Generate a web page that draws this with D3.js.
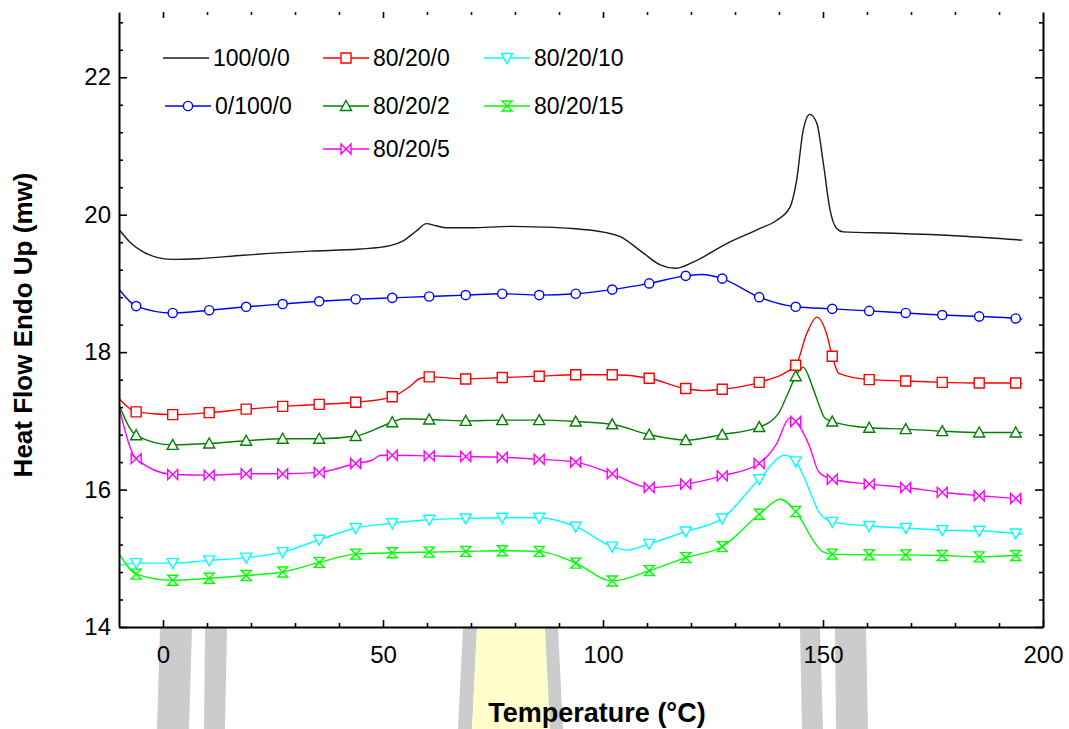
<!DOCTYPE html>
<html>
<head>
<meta charset="utf-8">
<script src="https://cdn.jsdelivr.net/npm/d3@7"></script>
<style>
  html, body { margin: 0; padding: 0; background: #fff; }
  svg { display: block; }
  text { font-family: "Liberation Sans", Arial, sans-serif; fill: #000; }
</style>
</head>
<body>
<svg id="chart" width="1069" height="729"></svg>
<script>
// ---------------- DATA ----------------
const xTicksMajor = [0, 50, 100, 150, 200];
const yTicksMajor = [14, 16, 18, 20, 22];

// temperatures (°C) where symbols are drawn (shared by all symbol series)
const markerTemp = [-6.1, 2.2, 10.5, 18.9, 27.2, 35.5, 43.8, 52.1, 60.5, 68.8, 77.1, 85.5, 93.8,
                    102.1, 110.5, 118.8, 127.1, 135.5, 143.8, 152.1, 160.5, 168.8, 177.1, 185.5, 193.8];

// 100/0/0 (line only)
const temp_100_0_0 = [-9.8, -7.5, -4.5, -1.4, 2, 8, 18.2, 33.4, 44.8, 51.6, 54.6, 57.5, 59.9, 62, 64.5, 70,
                      78.9, 86.4, 93, 97.8, 103.9, 109.2, 113, 116.4, 120.5, 128.1, 135.7, 139.5, 142.5, 144,
                      145.5, 147, 148.6, 150.1, 151.6, 153.1, 154.6, 166, 181.1, 195.3];
const hf_100_0_0   = [19.77, 19.60, 19.46, 19.38, 19.35, 19.36, 19.41, 19.47, 19.50, 19.55, 19.62, 19.76, 19.87, 19.84, 19.81, 19.81,
                      19.83, 19.82, 19.80, 19.77, 19.68, 19.44, 19.27, 19.22, 19.31, 19.58, 19.80, 19.92, 20.11, 20.50,
                      21.23, 21.46, 21.33, 20.74, 20.07, 19.80, 19.75, 19.73, 19.69, 19.63];

// 0/100/0
const mk_0_100_0 = [18.67, 18.57, 18.61, 18.66, 18.70, 18.74, 18.77, 18.79, 18.81, 18.83, 18.85, 18.83, 18.85,
                    18.91, 19.00, 19.11, 19.07, 18.80, 18.66, 18.63, 18.60, 18.57, 18.54, 18.52, 18.49];
const exT_0_100_0 = [-9.8, 122.5, 195.3];
const exV_0_100_0 = [18.90, 19.13, 18.48];

// 80/20/0
const mk_80_20_0 = [17.13, 17.09, 17.12, 17.17, 17.21, 17.24, 17.27, 17.35, 17.64, 17.61, 17.63, 17.65, 17.67,
                    17.67, 17.62, 17.47, 17.46, 17.56, 17.81, 17.94, 17.60, 17.58, 17.56, 17.55, 17.55];
const exT_80_20_0 = [-9.8, 56.1, 58.5, 123, 146.3, 148.6, 150.8, 153.6, 195.3];
const exV_80_20_0 = [17.31, 17.50, 17.62, 17.44, 18.27, 18.51, 18.27, 17.69, 17.54];

// 80/20/2
const mk_80_20_2 = [16.79, 16.65, 16.67, 16.71, 16.74, 16.74, 16.78, 16.98, 17.02, 17.00, 17.01, 17.01, 16.99,
                    16.95, 16.80, 16.72, 16.80, 16.91, 17.65, 16.99, 16.90, 16.88, 16.85, 16.83, 16.83];
const exT_80_20_2 = [-9.8, 54.6, 139.9, 141.9, 145.5, 147.7, 149.0, 150.4, 195.3];
const exV_80_20_2 = [17.20, 17.03, 17.11, 17.38, 17.78, 17.48, 17.25, 17.04, 16.83];

// 80/20/5
const mk_80_20_5 = [16.45, 16.22, 16.21, 16.23, 16.23, 16.25, 16.38, 16.50, 16.49, 16.48, 16.47, 16.44, 16.40,
                    16.23, 16.03, 16.08, 16.20, 16.38, 16.99, 16.15, 16.08, 16.03, 15.96, 15.91, 15.87];
const exT_80_20_5 = [-9.8, 47.6, 49.5, 139.4, 142.4, 147.0, 149.0, 195.3];
const exV_80_20_5 = [17.15, 16.43, 16.50, 16.66, 17.04, 16.62, 16.26, 15.86];

// 80/20/10
const mk_80_20_10 = [14.93, 14.93, 14.97, 15.01, 15.09, 15.27, 15.44, 15.51, 15.56, 15.58, 15.59, 15.59, 15.46,
                     15.17, 15.21, 15.39, 15.58, 16.15, 16.41, 15.53, 15.47, 15.44, 15.41, 15.40, 15.36];
const exT_80_20_10 = [-9.8, 105.5, 141.3, 147.5, 149.0, 195.3];
const exV_80_20_10 = [14.90, 15.12, 16.50, 15.90, 15.68, 15.35];

// 80/20/15
const mk_80_20_15 = [14.77, 14.68, 14.71, 14.75, 14.80, 14.94, 15.06, 15.08, 15.09, 15.10, 15.11, 15.10, 14.93,
                     14.67, 14.82, 15.01, 15.17, 15.64, 15.68, 15.06, 15.05, 15.05, 15.04, 15.02, 15.04];
const exT_80_20_15 = [-9.8, 140.3, 148.2, 149.8, 195.3];
const exV_80_20_15 = [15.05, 15.86, 15.22, 15.10, 15.04];

const seriesNames  = ["100/0/0", "0/100/0", "80/20/0", "80/20/2", "80/20/5", "80/20/10", "80/20/15"];
const seriesColors = ["#1a1a1a", "#0000ff", "#ff0000", "#008000", "#ff00ff", "#00ffff", "#00ff00"];
const seriesSymbol = [null, "circle", "square", "triangle", "bowtie", "triangleDown", "hourglass"];

// ---------------- BUILD ----------------
function merge(mk, exT, exV) {
  const pts = markerTemp.map((t, i) => ({t, v: mk[i]}));
  exT.forEach((t, i) => pts.push({t, v: exV[i]}));
  pts.sort((a, b) => a.t - b.t);
  return pts;
}
const series = [
  {curve: temp_100_0_0.map((t, i) => ({t, v: hf_100_0_0[i]})), markers: []},
  {curve: merge(mk_0_100_0, exT_0_100_0, exV_0_100_0), markers: mk_0_100_0},
  {curve: merge(mk_80_20_0, exT_80_20_0, exV_80_20_0), markers: mk_80_20_0},
  {curve: merge(mk_80_20_2, exT_80_20_2, exV_80_20_2), markers: mk_80_20_2},
  {curve: merge(mk_80_20_5, exT_80_20_5, exV_80_20_5), markers: mk_80_20_5},
  {curve: merge(mk_80_20_10, exT_80_20_10, exV_80_20_10), markers: mk_80_20_10},
  {curve: merge(mk_80_20_15, exT_80_20_15, exV_80_20_15), markers: mk_80_20_15}
].map((s, i) => Object.assign(s, {name: seriesNames[i], color: seriesColors[i], symbol: seriesSymbol[i]}));

// ---------------- DRAW ----------------
const svg = d3.select("#chart");
const x = d3.scaleLinear().domain([-10, 200]).range([119, 1043]);
const y = d3.scaleLinear().domain([14, 22.95]).range([627, 12]);

// decorative bands under the x axis
const bands = [
  {c: "#cccccc", p: [[160,628],[192,628],[189,729],[157,729]]},
  {c: "#cccccc", p: [[205,628],[227,628],[225,729],[204,729]]},
  {c: "#cccccc", p: [[463,628],[477,628],[472,729],[458,729]]},
  {c: "#ffffcc", p: [[477,628],[545,628],[550,729],[472,729]]},
  {c: "#cccccc", p: [[545,628],[558,628],[563,729],[550,729]]},
  {c: "#cccccc", p: [[800,628],[820,628],[823,729],[802,729]]},
  {c: "#cccccc", p: [[835,628],[866,628],[868,729],[836,729]]}
];
svg.append("g").selectAll("polygon").data(bands).join("polygon")
  .attr("points", d => d.p.map(q => q.join(",")).join(" "))
  .attr("fill", d => d.c);

const symbolPath = {
  circle: "M4.6,0A4.6,4.6 0 1,1 -4.6,0A4.6,4.6 0 1,1 4.6,0Z",
  square: "M-5,-5H5V5H-5Z",
  triangle: "M0,-5.5L5.5,4.5L-5.5,4.5Z",
  triangleDown: "M0,5.5L5.5,-4.5L-5.5,-4.5Z",
  bowtie: "M-5,-5L5,5V-5L-5,5Z",
  hourglass: "M-5,-5H5L-5,5H5Z"
};

const line = d3.line().x(d => x(d.t)).y(d => y(d.v)).curve(d3.curveMonotoneX);
const plot = svg.append("g");
series.forEach(s => {
  plot.append("path").datum(s.curve)
    .attr("d", line).attr("fill", "none")
    .attr("stroke", s.color).attr("stroke-width", 1.4);
});
series.forEach(s => {
  if (!s.symbol) return;
  plot.append("g").selectAll("path").data(s.markers).join("path")
    .attr("transform", (v, i) => `translate(${x(markerTemp[i])},${y(v)})`)
    .attr("d", symbolPath[s.symbol])
    .attr("fill", "#fff").attr("stroke", s.color).attr("stroke-width", 1.4);
});

// axes
const minorX = d3.range(-10, 201, 10).filter(v => v > -10 && v < 200 && v % 50 !== 0);
const minorY = d3.range(14, 23, 0.4).map(v => +v.toFixed(1)).filter(v => v % 2 !== 0 && v < 22.95);

function styleAxis(g) {
  g.selectAll(".domain").attr("stroke", "#000").attr("stroke-width", 2);
  g.selectAll(".tick line").attr("stroke", "#000").attr("stroke-width", 1.6);
  g.selectAll("text").attr("font-size", 24).attr("font-family", "'Liberation Sans', Arial, sans-serif");
}

// bottom
svg.append("g").attr("transform", "translate(0,627)")
  .call(d3.axisBottom(x).tickValues(minorX).tickSize(-4).tickFormat(""))
  .call(g => g.select(".domain").remove())
  .call(styleAxis);
svg.append("g").attr("transform", "translate(0,627)")
  .call(d3.axisBottom(x).tickValues(xTicksMajor).tickSizeInner(-7).tickSizeOuter(0).tickPadding(19).tickFormat(d3.format("d")))
  .call(styleAxis);
// top ticks only
svg.append("g").attr("transform", "translate(0,12)")
  .call(d3.axisTop(x).tickValues(d3.range(0, 200, 10)).tickSize(-3).tickFormat(""))
  .call(g => g.select(".domain").remove())
  .call(g => g.selectAll(".tick line").attr("y2", d => d % 50 === 0 ? 6 : 3))
  .call(styleAxis);
// left
svg.append("g").attr("transform", "translate(119,0)")
  .call(d3.axisLeft(y).tickValues(minorY).tickSize(-4).tickFormat(""))
  .call(g => g.select(".domain").remove())
  .call(styleAxis);
svg.append("g").attr("transform", "translate(119,0)")
  .call(d3.axisLeft(y).tickValues(yTicksMajor).tickSizeInner(-8).tickSizeOuter(0).tickPadding(8).tickFormat(d3.format("d")))
  .call(styleAxis);
// right
svg.append("g").attr("transform", "translate(1043,0)")
  .call(d3.axisRight(y).tickValues(minorY).tickSize(-4).tickFormat(""))
  .call(g => g.select(".domain").remove())
  .call(styleAxis);
svg.append("g").attr("transform", "translate(1043,0)")
  .call(d3.axisRight(y).tickValues(yTicksMajor).tickSizeInner(-8).tickSizeOuter(0).tickFormat(""))
  .call(styleAxis);

// axis titles
svg.append("text").attr("x", 597).attr("y", 722).attr("text-anchor", "middle")
  .attr("font-size", 27).attr("font-weight", "bold").text("Temperature (°C)");
svg.append("text").attr("transform", "translate(32,325) rotate(-90)").attr("text-anchor", "middle")
  .attr("font-size", 26).attr("font-weight", "bold").text("Heat Flow Endo Up (mw)");

// legend
const legendPos = [
  {x: 163, y: 58}, {x: 165, y: 106}, {x: 323, y: 58}, {x: 323, y: 106}, {x: 323, y: 149}, {x: 484, y: 58}, {x: 484, y: 106}
];
const leg = svg.append("g");
series.forEach((s, i) => {
  const p = legendPos[i];
  const g = leg.append("g").attr("transform", `translate(${p.x},${p.y})`);
  g.append("line").attr("x1", 0).attr("x2", 46).attr("stroke", s.color).attr("stroke-width", 1.4);
  if (s.symbol) g.append("path").attr("transform", "translate(23,0)").attr("d", symbolPath[s.symbol])
    .attr("fill", "#fff").attr("stroke", s.color).attr("stroke-width", 1.4);
  g.append("text").attr("x", 50).attr("dy", "0.35em").attr("font-size", 23).text(s.name);
});
</script>
</body>
</html>
